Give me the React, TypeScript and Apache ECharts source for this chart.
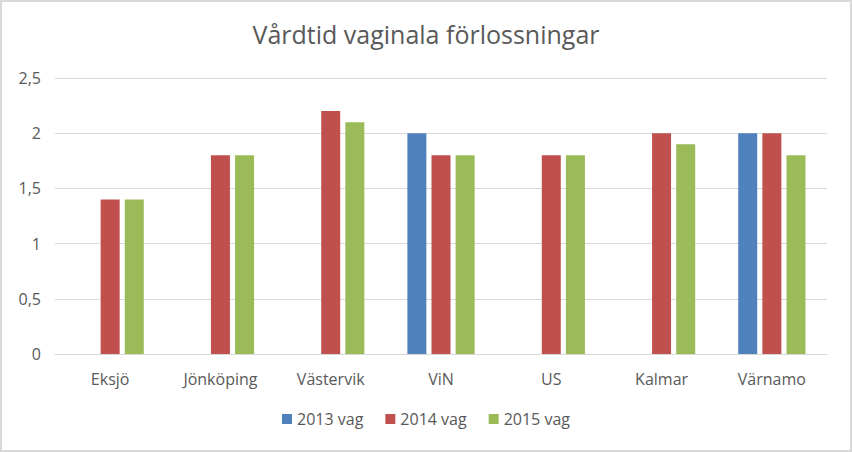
import React, { useEffect, useRef } from "react";
import * as echarts from "echarts";

const categories = ["Eksjö", "Jönköping", "Västervik", "ViN", "US", "Kalmar", "Värnamo"];
const seriesNames = ["2013 vag", "2014 vag", "2015 vag"];
const values2013 = [null, null, null, 2, null, null, 2];
const values2014 = [1.4, 1.8, 2.2, 1.8, 1.8, 2, 2];
const values2015 = [1.4, 1.8, 2.1, 1.8, 1.8, 1.9, 1.8];
const colors = ["#4F81BD", "#C0504D", "#9BBB59"];

const FONT = "'Open Sans', 'Noto Sans', sans-serif";

export default function App() {
  const ref = useRef<HTMLDivElement>(null);
  useEffect(() => {
    if (!ref.current) return;
    const chart = echarts.init(ref.current, null, { renderer: "svg" });
    const data = [values2013, values2014, values2015];
    chart.setOption({
      animation: false,
      backgroundColor: "#ffffff",
      title: {
        text: "Vårdtid vaginala förlossningar",
        left: "center",
        top: 14,
        textStyle: { fontFamily: FONT, fontSize: 25, fontWeight: "normal", color: "#595959" },
      },
      legend: {
        bottom: 18,
        left: "center",
        itemWidth: 10,
        itemHeight: 10,
        itemGap: 22,
        icon: "rect",
        textStyle: { fontFamily: FONT, fontSize: 16, color: "#595959" },
        data: seriesNames,
      },
      grid: { left: 53, right: 23, top: 76, bottom: 96, containLabel: false },
      xAxis: {
        type: "category",
        data: categories,
        axisLine: { lineStyle: { color: "#d9d9d9" } },
        axisTick: { show: false },
        axisLabel: { fontFamily: FONT, fontSize: 16, color: "#595959", margin: 17 },
      },
      yAxis: {
        type: "value",
        min: 0,
        max: 2.5,
        interval: 0.5,
        axisLine: { show: false },
        axisTick: { show: false },
        splitLine: { lineStyle: { color: "#d9d9d9" } },
        axisLabel: {
          fontFamily: FONT,
          fontSize: 16,
          color: "#595959",
          margin: 14,
          formatter: (v: number) => String(v).replace(".", ","),
        },
      },
      series: seriesNames.map((name, i) => ({
        name,
        type: "bar",
        data: data[i],
        barWidth: 19,
        barGap: "27%",
        itemStyle: { color: colors[i] },
      })),
    });
    return () => chart.dispose();
  }, []);
  return (
    <div
      style={{
        position: "absolute",
        left: 0,
        top: 0,
        width: 852,
        height: 452,
        boxSizing: "border-box",
        border: "2px solid #d9d9d9",
        background: "#fff",
      }}
    >
      <div ref={ref} style={{ width: 848, height: 448 }} />
    </div>
  );
}
